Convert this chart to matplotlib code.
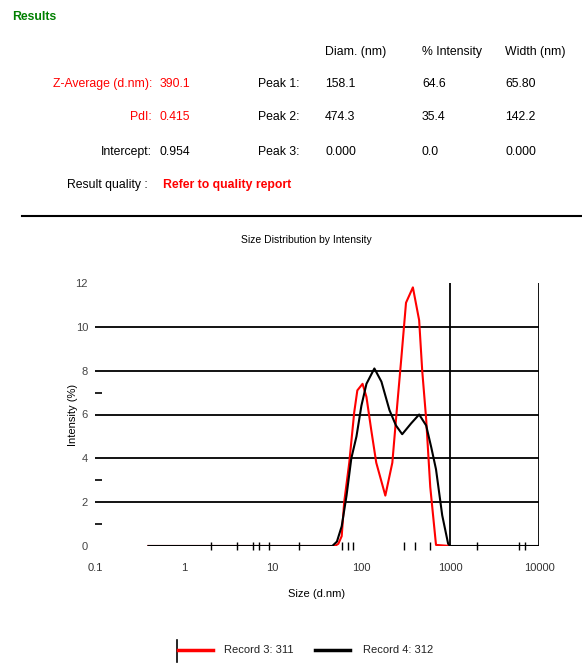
import matplotlib
matplotlib.use("Agg")
import matplotlib.pyplot as plt
from matplotlib.ticker import FixedLocator, NullFormatter
from matplotlib.lines import Line2D

plt.rcParams['font.family'] = ['Liberation Sans Narrow', 'Liberation Sans', 'DejaVu Sans']

## 结果表
row_labels = ["Z-Average (d.nm):", "PdI:", "Intercept:"]
row_values = ["390.1", "0.415", "0.954"]
row_colors = ["red", "red", "black"]
peak_labels = ["Peak 1:", "Peak 2:", "Peak 3:"]
col_heads = ["Diam. (nm)", "% Intensity", "Width (nm)"]
peak_diam = ["158.1", "474.3", "0.000"]
peak_int = ["64.6", "35.4", "0.0"]
peak_width = ["65.80", "142.2", "0.000"]

## 粒径分布 (size d.nm, intensity %)
rec3_size = [0.4, 50, 55, 60, 64, 73, 83, 90, 103, 114, 129, 147, 186, 223, 254,
             282, 318, 380, 447, 484, 536, 596, 692, 1000]
rec3_int = [0, 0, 0.1, 0.45, 2.0, 3.8, 6.1, 7.1, 7.4, 6.8, 5.3, 3.8, 2.3, 3.8, 6.5,
            8.6, 11.1, 11.8, 10.3, 8.0, 5.8, 2.7, 0.05, 0]
rec4_size = [0.4, 47, 53, 60, 68, 77, 88, 100, 114, 140, 168, 207, 245, 288, 364,
             447, 536, 612, 692, 813, 948, 1000, 10000]
rec4_int = [0, 0, 0.2, 0.9, 2.3, 4.0, 5.0, 6.4, 7.4, 8.1, 7.5, 6.2, 5.5, 5.1, 5.6,
            6.0, 5.5, 4.5, 3.5, 1.4, 0.1, 0, 0]
rec_names = ["Record 3: 311", "Record 4: 312"]

x_ticks = [0.1, 1, 10, 100, 1000, 10000]
x_tick_labels = ["0.1", "1", "10", "100", "1000", "10000"]
x_minor = [2, 4, 6, 7, 9, 20, 60, 70, 80, 300, 400, 600, 2000, 6000, 7000]
y_ticks = [0, 2, 4, 6, 8, 10, 12]
y_minor = [1, 3, 7]
grid_y = [2, 4, 6, 8, 10]
grid_x = [1000, 10000]

W, H = 582, 672
fig = plt.figure(figsize=(W / 100, H / 100), dpi=100)

def fx(px):
    return px / W

def fy(py):
    return 1 - py / H

hs = 8.8
fig.text(fx(12), fy(17), "Results", color="#008000", fontsize=hs, fontweight="bold", va="center")
for i, h in enumerate(col_heads):
    fig.text(fx([325, 422, 505][i]), fy(52), h, fontsize=hs, va="center")
rows_y = [84, 117, 152]
for i in range(3):
    fig.text(fx(152), fy(rows_y[i]), row_labels[i], color=row_colors[i], fontsize=hs, ha="right", va="center")
    fig.text(fx(160), fy(rows_y[i]), row_values[i], color=row_colors[i], fontsize=hs, va="center")
    fig.text(fx(258), fy(rows_y[i]), peak_labels[i], fontsize=hs, va="center")
    fig.text(fx(325), fy(rows_y[i]), peak_diam[i], fontsize=hs, va="center")
    fig.text(fx(422), fy(rows_y[i]), peak_int[i], fontsize=hs, va="center")
    fig.text(fx(505), fy(rows_y[i]), peak_width[i], fontsize=hs, va="center")
fig.text(fx(148), fy(185), "Result quality :", fontsize=hs, ha="right", va="center")
fig.text(fx(163), fy(185), "Refer to quality report", color="red", fontsize=hs,
         fontweight="bold", va="center")

fig.add_artist(Line2D([fx(22), fx(582)], [fy(216), fy(216)], color="black", lw=1.5))
fig.text(fx(306), fy(240), "Size Distribution by Intensity", fontsize=7.5, ha="center", va="center")

ax = fig.add_axes([fx(95), fy(546), fx(539) - fx(95), fy(283) - fy(546)])
ax.set_xscale("log")
ax.set_xlim(0.1, 10000)
ax.set_ylim(0, 12)
for g in grid_y:
    ax.axhline(g, color="black", lw=1.3, zorder=1)
for g in grid_x:
    ax.axvline(g, color="black", lw=1.3, zorder=1)

ax.plot(rec3_size, rec3_int, color="red", lw=1.5, zorder=3)
ax.plot(rec4_size, rec4_int, color="black", lw=1.5, zorder=4)

for s in ax.spines.values():
    s.set_visible(False)
ax.xaxis.set_major_locator(FixedLocator(x_ticks))
ax.set_xticklabels(x_tick_labels)
ax.xaxis.set_minor_locator(FixedLocator(x_minor))
ax.xaxis.set_minor_formatter(NullFormatter())
ax.tick_params(axis="x", which="major", length=0, pad=12, labelsize=8, labelcolor="#333333")
ax.tick_params(axis="x", which="minor", direction="inout", length=6, width=1, color="black")
ax.set_yticks(y_ticks)
ax.yaxis.set_minor_locator(FixedLocator(y_minor))
ax.tick_params(axis="y", which="major", length=0, pad=5, labelsize=8, labelcolor="#444444")
ax.tick_params(axis="y", which="minor", direction="in", length=5, width=1.2, color="black")
ax.set_xlabel("Size (d.nm)", fontsize=8, labelpad=12)
ax.set_ylabel("Intensity (%)", fontsize=8, labelpad=-2)

# 图例
ly = fy(650)
fig.add_artist(Line2D([fx(177), fx(177)], [fy(640), fy(662)], color="black", lw=1.2))
fig.add_artist(Line2D([fx(178), fx(213)], [ly, ly], color="red", lw=2.5))
fig.text(fx(224), ly, rec_names[0], fontsize=8, va="center", color="#222222")
fig.add_artist(Line2D([fx(315), fx(350)], [ly, ly], color="black", lw=2.5))
fig.text(fx(363), ly, rec_names[1], fontsize=8, va="center", color="#222222")

fig.savefig("out.png", dpi=100)
